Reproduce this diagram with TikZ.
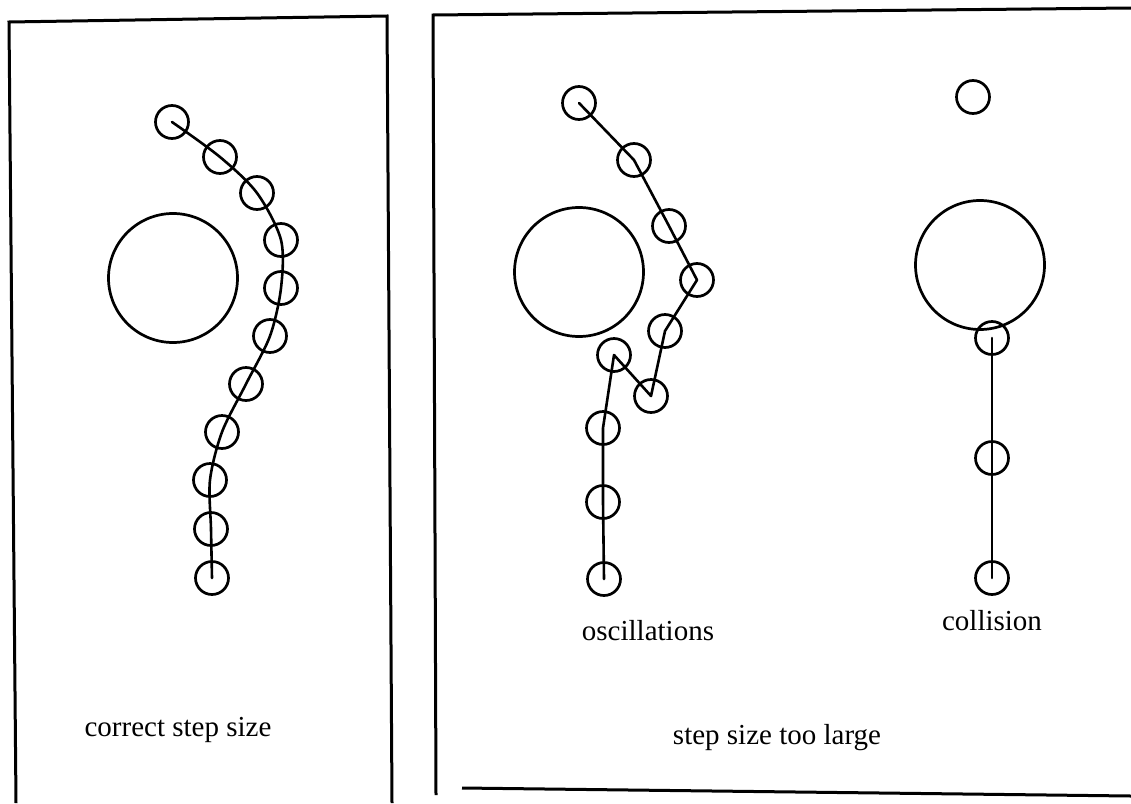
\documentclass[tikz,border=0pt]{standalone}
\usepackage{fontspec}
\setmainfont{Liberation Serif}
\begin{document}
\begin{tikzpicture}[x=1pt,y=-1pt,
  ball/.style={circle,draw,line width=2.7pt,minimum size=33pt,inner sep=0pt},
  obstacle/.style={circle,draw,line width=2.7pt,minimum size=129pt,inner sep=0pt},
  track/.style={line width=2.6pt,line join=round,line cap=round},
  frame/.style={line width=3pt},
  caption/.style={font=\fontsize{29}{32}\selectfont,inner sep=0pt,anchor=base}]
\useasboundingbox (0,0) rectangle (1131,803);

% panel frames
\draw[frame] (16,803) -- (9,22) -- (387,16) -- (392,803);
\draw[frame] (436,795) -- (433,15) -- (1131,8);
\draw[frame] (462,788) -- (1131,796);

% correct step size: smooth path around the obstacle
\node[obstacle] (lo) at (173,278) {};
\foreach \i/\p in {1/{(172,122)},2/{(220,157)},3/{(257,193)},4/{(281,240)},
                   5/{(281,288)},6/{(270,336)},7/{(246,384)},8/{(222,432)},
                   9/{(210,480)},10/{(211,529)},11/{(212,578)}}
  \node[ball] (l\i) at \p {};
\draw[track] plot[smooth,tension=0.5] coordinates {
  (l1.center) (l2.center) (l3.center) (l4.center) (l5.center) (l6.center)
  (l7.center) (l8.center) (l9.center) (l10.center) (l11.center)};
\node[caption] (lcap) at (178,736) {correct step size};

% step size too large: oscillations
\node[obstacle] (mo) at (579,272) {};
\foreach \i/\p in {1/{(579,103)},2/{(634,160)},3/{(669,226)},4/{(697,280)},
                   5/{(665,331)},6/{(614,355)},7/{(651,396)},8/{(603,428)},
                   9/{(603,502)},10/{(604,579)}}
  \node[ball] (m\i) at \p {};
\draw[track] (m1.center) -- (m2.center) -- (m3.center) -- (m4.center)
  -- (m5.center) -- (m7.center) -- (m6.center) -- (m8.center)
  -- (m9.center) -- (m10.center);
\node[caption] (mcap) at (648,640) {oscillations};

% step size too large: collision
\node[ball] (r0) at (973,97) {};
\node[obstacle] (ro) at (980,265) {};
\node[ball] (r1) at (992,338) {};
\node[ball] (r2) at (992,458) {};
\node[ball] (r3) at (992,578) {};
\draw[track] (r1.center) -- (r2.center) -- (r3.center);
\node[caption] (rcap) at (992,630) {collision};

\node[caption] (bcap) at (777,744) {step size too large};
\end{tikzpicture}
\end{document}
